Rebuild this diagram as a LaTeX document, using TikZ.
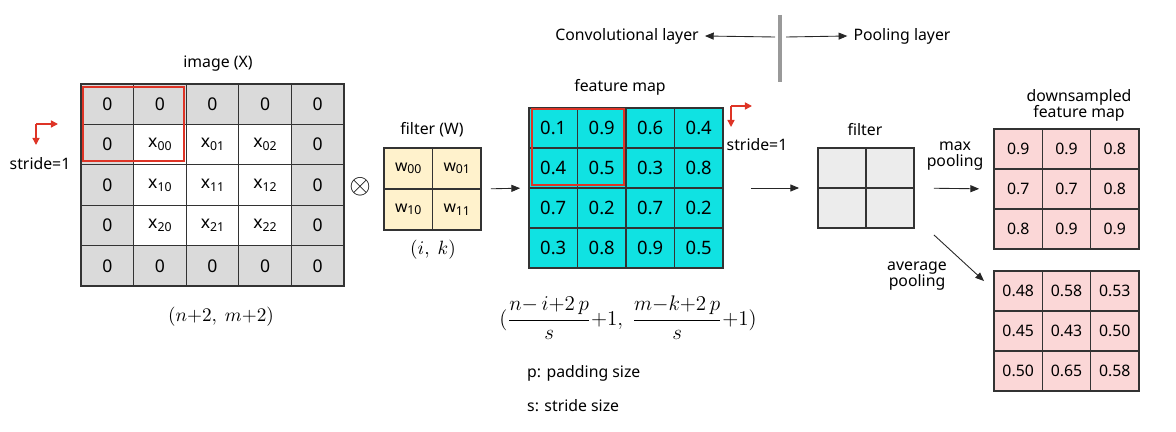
\documentclass[tikz,border=0pt]{standalone}
\usepackage[no-math]{fontspec}
\setmainfont{Noto Sans}
\usetikzlibrary{arrows.meta,fit}

\definecolor{padgray}{RGB}{218,218,218}
\definecolor{wyellow}{RGB}{255,242,204}
\definecolor{fcyan}{RGB}{16,226,226}
\definecolor{pgray}{RGB}{236,236,236}
\definecolor{dpink}{RGB}{251,215,215}
\definecolor{boxred}{RGB}{222,52,38}

% letter with a small lowered index
\newcommand{\lsub}[2]{#1\raisebox{-0.3ex}{\fontsize{7}{7}\selectfont #2}}

\begin{document}
\begin{tikzpicture}[x=0.02cm, y=-0.02cm,
    every node/.style={font=\fontsize{9}{11}\selectfont},
    cell/.style={draw=black!80, line width=0.7pt, inner sep=0pt},
    imgcell/.style={cell, minimum width=1.052cm, minimum height=0.808cm, font=\fontsize{10}{11}\selectfont},
    wcell/.style={cell, fill=wyellow, minimum width=0.97cm, minimum height=0.82cm},
    fcell/.style={cell, fill=fcyan, minimum width=0.97cm, minimum height=0.8cm, font=\fontsize{10.5}{12}\selectfont},
    pcell/.style={cell, fill=pgray, minimum width=0.96cm, minimum height=0.8cm},
    dcell/.style={cell, fill=dpink, minimum width=0.966cm, minimum height=0.8cm},
    gridbox/.style={inner sep=0pt, fit=#1},
    redbox/.style={draw=boxred, line width=1.1pt},
    redarr/.style={draw=boxred, line width=0.8pt, -{Triangle[length=4pt,width=4pt]}},
    arr/.style={draw=black!85, line width=0.5pt, -{Triangle[length=5pt,width=4pt]}}]
    \useasboundingbox (0,0) rectangle (1176,432);

    % Top: layer split
    \node (conv) at (627,36) {Convolutional layer};
    \node (poollayer) at (902,36) {Pooling layer};
    \coordinate (bar) at (780,37);
    \draw[line width=2.2pt, draw=black!40] (780,15) -- (780,82);
    \draw[arr] ([shift={(-5,0)}]bar) -- (conv.east);
    \draw[arr] ([shift={(6,0)}]bar) -- (poollayer.west);

    % Image with zero padding
    \foreach \r in {0,...,4}
        \foreach \c in {0,...,4} {
            \pgfmathtruncatemacro\inner{(\r>0)*(\r<4)*(\c>0)*(\c<4)}
            \pgfmathtruncatemacro\ri{\r-1}
            \pgfmathtruncatemacro\ci{\c-1}
            \ifnum\inner=1
                \node[imgcell, fill=white] (x-\r-\c) at ({81+52.6*(\c+0.5)},{84+40.4*(\r+0.5)}) {\lsub{x}{\ri\ci}};
            \else
                \node[imgcell, fill=padgray] (x-\r-\c) at ({81+52.6*(\c+0.5)},{84+40.4*(\r+0.5)}) {0};
            \fi
        }
    \node[gridbox={(x-0-0)(x-4-4)}] (img) {};
    \draw[redbox] ([shift={(3,4)}]x-0-0.north west) rectangle ([shift={(-3,-4)}]x-1-1.south east);
    \node (imglabel) at (218,64) {image (X)};
    \node (imgsize) at (221,317) {\fontsize{10.5}{12}\selectfont$(n{+}2,\ m{+}2)$};

    % Stride arrow (image)
    \coordinate (s1) at (36,124);
    \draw[redarr] (s1) -- ++(22,0);
    \draw[redarr] (s1) -- ++(0,21);
    \node (stride1) at (40,164) {stride=1};

    \node[scale=1.7] (op) at (360,187) {$\otimes$};

    % Filter W
    \foreach \r in {0,1}
        \foreach \c in {0,1}
            \node[wcell] (w-\r-\c) at ({384+48.5*(\c+0.5)},{148+41*(\r+0.5)}) {\lsub{w}{\r\c}};
    \node[gridbox={(w-0-0)(w-1-1)}] (filt) {};
    \node (filtlabel) at (432,130) {filter (W)};
    \node (filtsize) at (433,250) {\fontsize{10.5}{12}\selectfont$(i,\ k)$};

    % Feature map
    \foreach \row [count=\r from 0] in {{0.1,0.9,0.6,0.4},{0.4,0.5,0.3,0.8},{0.7,0.2,0.7,0.2},{0.3,0.8,0.9,0.5}}
        \foreach \v [count=\c from 0] in \row
            \node[fcell] (f-\r-\c) at ({529+48.5*(\c+0.5)},{108+40*(\r+0.5)}) {\v};
    \node[gridbox={(f-0-0)(f-3-3)}] (fmap) {};
    \draw[redbox] ([shift={(4,2)}]f-0-0.north west) rectangle ([shift={(-3,-4)}]f-1-1.south east);
    \node (fmaplabel) at (620,87) {feature map};
    \node (fmapsize) at (628,318) {\fontsize{11.5}{13}\selectfont$(\displaystyle\frac{n{-}\,i{+}2\,p}{s}{+}1,\ \frac{m{-}k{+}2\,p}{s}{+}1)$};
    \node[anchor=west] (pnote) at (521,373) {p: padding size};
    \node[anchor=west] (snote) at (521,406) {s: stride size};

    % Stride arrow (feature map)
    \coordinate (s2) at (731,106);
    \draw[redarr] (s2) -- ++(21,0);
    \draw[redarr] (s2) -- ++(0,21);
    \node (stride2) at (757,145) {stride=1};

    % Pooling filter
    \foreach \r in {0,1}
        \foreach \c in {0,1}
            \node[pcell] (p-\r-\c) at ({818+48*(\c+0.5)},{148+40*(\r+0.5)}) {};
    \node[gridbox={(p-0-0)(p-1-1)}] (pfilt) {};
    \node (pfiltlabel) at (865,130) {filter};

    % Downsampled maps
    \foreach \row [count=\r from 0] in {{0.9,0.9,0.8},{0.7,0.7,0.8},{0.8,0.9,0.9}}
        \foreach \v [count=\c from 0] in \row
            \node[dcell] (m-\r-\c) at ({994+48.3*(\c+0.5)},{129+40*(\r+0.5)}) {\v};
    \node[gridbox={(m-0-0)(m-2-2)}] (maxmap) {};
    \foreach \row [count=\r from 0] in {{0.48,0.58,0.53},{0.45,0.43,0.50},{0.50,0.65,0.58}}
        \foreach \v [count=\c from 0] in \row
            \node[dcell] (a-\r-\c) at ({994+48.3*(\c+0.5)},{271+40*(\r+0.5)}) {\v};
    \node[gridbox={(a-0-0)(a-2-2)}] (avgmap) {};
    \node[align=center] (dslabel) at (1079,105) {downsampled\\[-2pt]feature map};
    \node[align=center] (maxlabel) at (955,156) {max\\[-2pt]pooling};
    \node[align=center] (avglabel) at (917,276) {average\\[-2pt]pooling};

    % Connectors
    \draw[arr, shorten <=5.1pt, shorten >=4.5pt] (filt.east) -- (fmap.west);
    \draw[arr, shorten <=15.3pt, shorten >=10.2pt] (fmap.east) -- (pfilt.west);
    \draw[arr, shorten <=10.8pt, shorten >=7.9pt] (pfilt.east) -- (maxmap.west);
    \draw[arr] ([shift={(19,6)}]pfilt.south east) -- ([shift={(-9,11)}]avgmap.north west);
\end{tikzpicture}
\end{document}
